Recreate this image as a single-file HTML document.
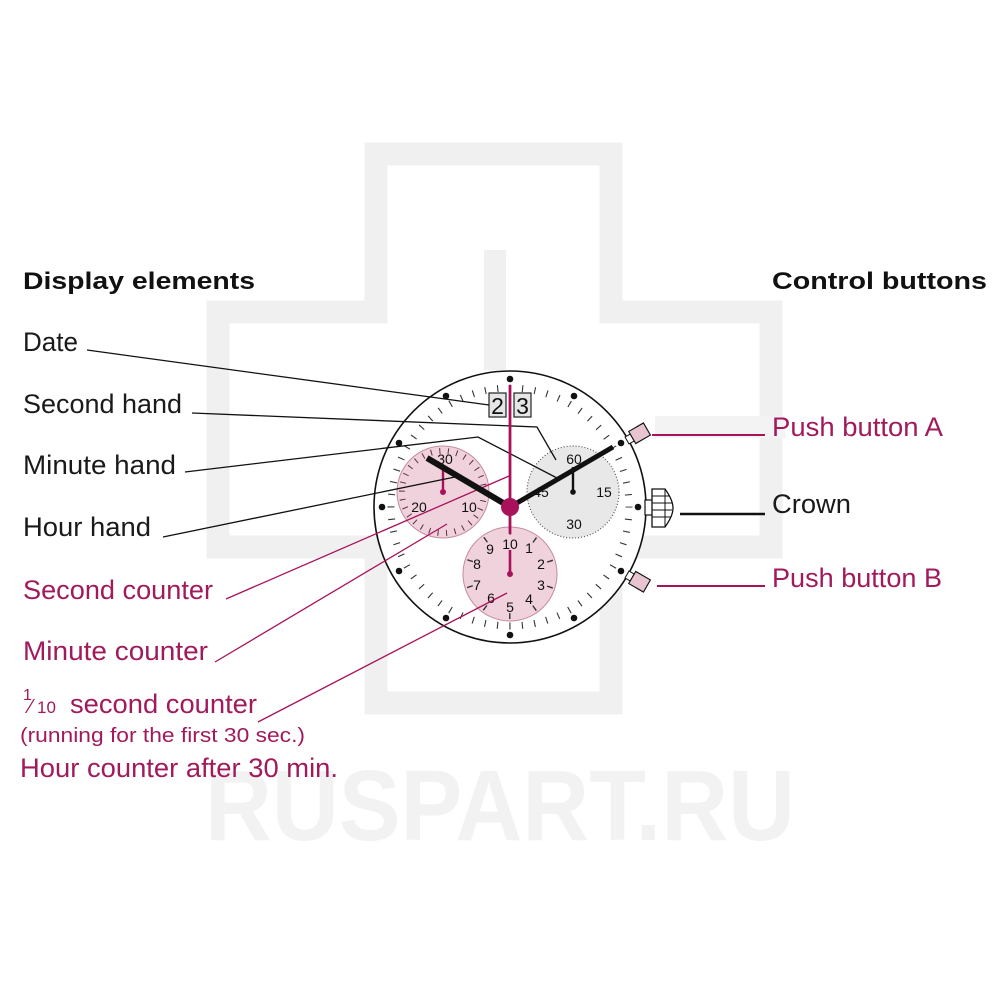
<!DOCTYPE html>
<html><head><meta charset="utf-8"><style>
html,body{margin:0;padding:0;background:#fff;}
svg{display:block;}
text{font-family:"Liberation Sans",sans-serif;}
</style></head><body>
<svg width="1000" height="1000" viewBox="0 0 1000 1000" xmlns="http://www.w3.org/2000/svg">
<!-- watermark -->
<g fill="none" stroke="#f0f0f0" stroke-width="23">
<path d="M376 154 H611 V312 H771 V547 H611 V703 H376 V547 H218 V312 H376 Z"/>
</g>
<rect x="484" y="250" width="22" height="120" fill="#f0f0f0"/>
<rect x="655" y="416" width="130" height="22" fill="#f3f3f3"/>
<text x="500" y="840" text-anchor="middle" font-size="100" font-weight="bold" fill="#f2f2f2" textLength="590" lengthAdjust="spacingAndGlyphs">RUSPART.RU</text>

<!-- headings -->
<text x="23" y="289" font-size="24" font-weight="bold" fill="#111" textLength="232" lengthAdjust="spacingAndGlyphs">Display elements</text>
<text x="772" y="289" font-size="24" font-weight="bold" fill="#111" textLength="215" lengthAdjust="spacingAndGlyphs">Control buttons</text>

<g font-size="27" fill="#1a1a1a">
<text x="23" y="351" textLength="55" lengthAdjust="spacingAndGlyphs">Date</text>
<text x="23" y="413" textLength="159" lengthAdjust="spacingAndGlyphs">Second hand</text>
<text x="23" y="474" textLength="153" lengthAdjust="spacingAndGlyphs">Minute hand</text>
<text x="23" y="536" textLength="128" lengthAdjust="spacingAndGlyphs">Hour hand</text>
<text x="772" y="513" textLength="79" lengthAdjust="spacingAndGlyphs">Crown</text>
</g>
<g font-size="27" fill="#a11a5c">
<text x="23" y="599" textLength="190" lengthAdjust="spacingAndGlyphs">Second counter</text>
<text x="23" y="660" textLength="185" lengthAdjust="spacingAndGlyphs">Minute counter</text>
<text x="23" y="700" font-size="16">1</text>
<text x="29" y="713" font-size="20">⁄</text>
<text x="37" y="713" font-size="17">10</text>
<text x="70" y="713" textLength="187" lengthAdjust="spacingAndGlyphs">second counter</text>
<text x="20" y="742" font-size="20" textLength="285" lengthAdjust="spacingAndGlyphs">(running for the first 30 sec.)</text>
<text x="20" y="777" textLength="318" lengthAdjust="spacingAndGlyphs">Hour counter after 30 min.</text>
<text x="772" y="436" textLength="171" lengthAdjust="spacingAndGlyphs">Push button A</text>
<text x="772" y="587" textLength="170" lengthAdjust="spacingAndGlyphs">Push button B</text>
</g>

<!-- dial -->
<circle cx="510" cy="507" r="136" fill="#fff" stroke="#111" stroke-width="1.6"/>
<circle cx="510" cy="507" r="119" fill="none" stroke="#333" stroke-width="7" stroke-dasharray="1.1 11.36" stroke-dashoffset="0.55"/>
<g fill="#111">
<circle cx="510" cy="379" r="3.3"/><circle cx="574" cy="396" r="3.3"/><circle cx="621" cy="443" r="3.3"/>
<circle cx="638" cy="507" r="3.3"/><circle cx="621" cy="571" r="3.3"/><circle cx="574" cy="618" r="3.3"/>
<circle cx="510" cy="635" r="3.3"/><circle cx="446" cy="618" r="3.3"/><circle cx="399" cy="571" r="3.3"/>
<circle cx="382" cy="507" r="3.3"/><circle cx="399" cy="443" r="3.3"/><circle cx="446" cy="396" r="3.3"/>
</g>

<!-- left subdial -->
<circle cx="443" cy="492" r="46" fill="#f0d2dc" stroke="#c58aa2" stroke-width="1"/>
<circle cx="443" cy="492" r="41" fill="none" stroke="#5a3040" stroke-width="6" stroke-dasharray="1 7.6"/>
<!-- right subdial -->
<circle cx="573" cy="492" r="46" fill="#e8e8e8" stroke="#555" stroke-width="1.2" stroke-dasharray="1 2"/>
<!-- bottom subdial -->
<circle cx="510" cy="574" r="47" fill="#f0d2dc" stroke="#c58aa2" stroke-width="1"/>
<circle cx="510" cy="574" r="42" fill="none" stroke="#333" stroke-width="6" stroke-dasharray="1.4 24.99" stroke-dashoffset="0.7" transform="rotate(-90 510 574)"/>

<g font-size="14" fill="#111" text-anchor="middle">
<text x="445" y="464">30</text><text x="419" y="512">20</text><text x="469" y="512">10</text>
<text x="574" y="464">60</text><text x="604" y="497">15</text><text x="574" y="529">30</text><text x="541" y="497">45</text>
<text x="510" y="549">10</text><text x="529" y="553">1</text><text x="541" y="569">2</text><text x="541" y="590">3</text>
<text x="529" y="604">4</text><text x="510" y="612">5</text><text x="491" y="603">6</text><text x="477" y="590">7</text>
<text x="477" y="569">8</text><text x="490" y="554">9</text>
</g>

<!-- date -->
<rect x="489" y="393" width="17" height="24" fill="#e6e6e6" stroke="#222" stroke-width="1.2"/>
<rect x="514" y="393" width="17" height="24" fill="#e6e6e6" stroke="#222" stroke-width="1.2"/>
<text x="497.5" y="414" font-size="23" text-anchor="middle" fill="#111">2</text>
<text x="522.5" y="414" font-size="23" text-anchor="middle" fill="#111">3</text>

<!-- subdial hands -->
<line x1="443" y1="492" x2="443" y2="469" stroke="#a8125a" stroke-width="2.4"/>
<circle cx="443" cy="492" r="3" fill="#a8125a"/>
<line x1="573" y1="492" x2="573" y2="467" stroke="#111" stroke-width="2.4"/>
<circle cx="573" cy="492" r="2.8" fill="#111"/>
<line x1="510" y1="574" x2="510" y2="550" stroke="#a8125a" stroke-width="2.6"/>
<circle cx="510" cy="574" r="3" fill="#a8125a"/>

<!-- leader lines black -->
<g stroke="#111" stroke-width="1.3" fill="none">
<polyline points="87,350 489,405"/>
<polyline points="192,413 537,427 556,460"/>
<polyline points="185,472 478,437 557,478"/>
<polyline points="163,537 455,477"/>
</g>
<!-- magenta leaders -->
<g stroke="#a8125a" stroke-width="1.3" fill="none">
<line x1="226" y1="599" x2="509" y2="476"/>
<line x1="215" y1="662" x2="447" y2="524"/>
<line x1="258" y1="722" x2="507" y2="593"/>
</g>

<!-- main hands -->
<line x1="510" y1="507" x2="427" y2="458" stroke="#111" stroke-width="6"/>
<line x1="510" y1="507" x2="613" y2="447" stroke="#111" stroke-width="5"/>
<line x1="510" y1="385" x2="510" y2="534" stroke="#a8125a" stroke-width="2.8"/>
<circle cx="510" cy="507" r="9" fill="#a8125a"/>

<!-- crown -->
<rect x="645" y="500" width="8" height="15" fill="#fff" stroke="#111" stroke-width="1.2"/>
<path d="M652 489 H665 Q673 500 673 508 Q673 516 665 527 H652 Z" fill="#fff" stroke="#111" stroke-width="1.3"/>
<g stroke="#111" stroke-width="1"><line x1="652" y1="496" x2="669" y2="496"/><line x1="652" y1="503" x2="672" y2="503"/><line x1="652" y1="510" x2="672" y2="510"/><line x1="652" y1="517" x2="671" y2="517"/><line x1="665" y1="489" x2="665" y2="527"/></g>
<!-- push buttons -->
<g transform="rotate(-30 640 433)">
<rect x="625" y="429" width="6" height="8" fill="#fff" stroke="#111" stroke-width="1"/>
<rect x="631" y="426" width="17" height="14" fill="#e8c3d0" stroke="#111" stroke-width="1.1"/>
</g>
<g transform="rotate(30 640 582)">
<rect x="625" y="578" width="6" height="8" fill="#fff" stroke="#111" stroke-width="1"/>
<rect x="631" y="575" width="17" height="14" fill="#e8c3d0" stroke="#111" stroke-width="1.1"/>
</g>
<line x1="652" y1="435" x2="765" y2="435" stroke="#a8125a" stroke-width="2"/>
<line x1="680" y1="514" x2="765" y2="514" stroke="#111" stroke-width="2.6"/>
<line x1="657" y1="586" x2="765" y2="586" stroke="#a8125a" stroke-width="2"/>
</svg>
</body></html>
